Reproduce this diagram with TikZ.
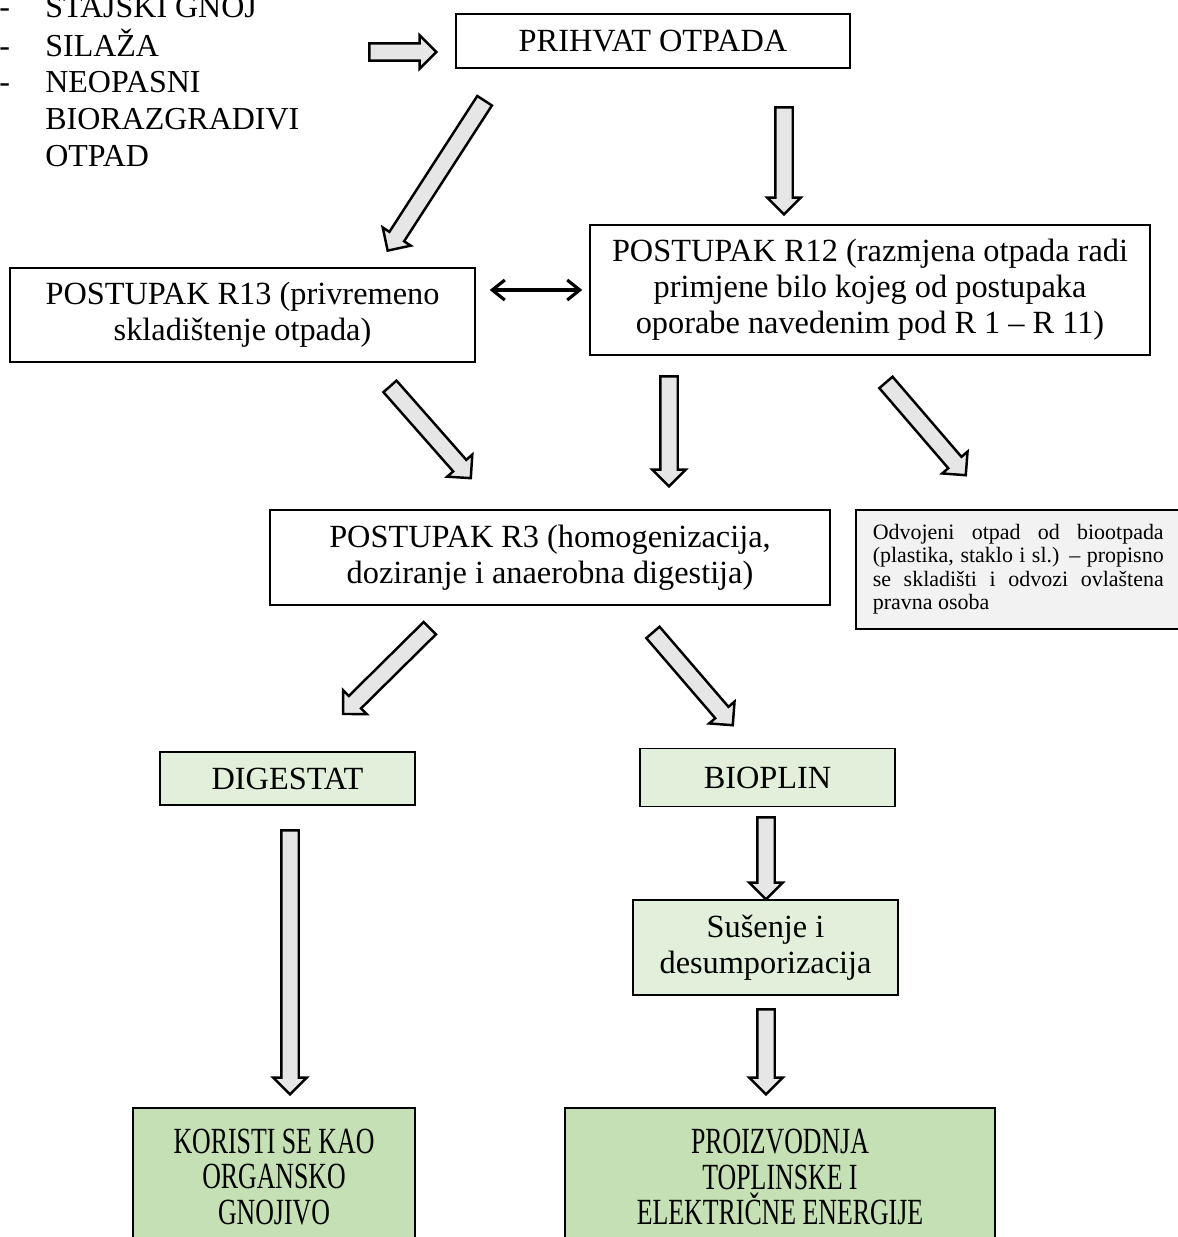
\documentclass[tikz,border=0pt]{standalone}
\usepackage{fontspec}
\setmainfont{Liberation Serif}
\newfontfamily\tallfont[FakeStretch=0.7]{Liberation Serif}
\usetikzlibrary{shapes.arrows,arrows.meta,calc}

\definecolor{g1}{HTML}{E2EFDA}
\definecolor{g2}{HTML}{C5E0B4}
\definecolor{n1}{HTML}{F2F2F2}
\definecolor{a1c}{HTML}{E7E6E6}

\tikzset{
	box/.style = {rectangle, draw, line width=0.9pt, align=center, inner sep=0pt,
		font=\fontsize{18.4}{20.4}\selectfont},
	greenbox/.style = {box, fill=g1},
	resultbox/.style = {box, fill=g2, font=\tallfont\fontsize{21}{20.4}\selectfont},
	notebox/.style = {rectangle, draw, line width=0.9pt, fill=n1, text width=5.82cm,
		align=justify, inner xsep=0.34cm, inner ysep=0pt, font=\fontsize{12.5}{13.2}\selectfont},
	blockarrow/.style = {single arrow, draw, fill=a1c, line width=1.4pt, minimum width=0pt,
		inner xsep=0pt, inner ysep=0.15cm, single arrow head extend=0.16cm, outer sep=0pt},
	line/.style = {draw, line width=1.8pt, <->, >={Straight Barb[length=0.25cm,width=0.4cm]}}
}

% block arrow from tail to tip
\newcommand\barr[2]{%
	\path let \p1 = ($(#2)-(#1)$) in
		node [blockarrow, minimum height={veclen(\x1,\y1)}, rotate={atan2(\y1,\x1)}] at ($(#1)!0.5!(#2)$) {};
}

\begin{document}
\begin{tikzpicture}[x=0.02cm, y=-0.02cm]
		\useasboundingbox (0,0) rectangle (1177,1237);
		
		\node [anchor=base west, inner sep=0pt, font=\fontsize{18.2}{20.8}\selectfont] (inputs) at (-1,18)
			{\begin{tabular}[t]{@{}p{0.92cm}@{}l@{}}
				- & STAJSKI GNOJ\\
				- & SILAŽA\\
				- & NEOPASNI\\
				  & BIORAZGRADIVI\\
				  & OTPAD
			\end{tabular}};
		
		\node [box, minimum width=7.88cm, minimum height=1.08cm] (prihvat) at (653,41) {PRIHVAT OTPADA};
		\node [box, minimum width=9.3cm, minimum height=1.88cm] (r13) at (242.5,315)
			{POSTUPAK R13 (privremeno\\skladištenje otpada)};
		\node [box, minimum width=11.2cm, minimum height=2.6cm] (r12) at (870,290)
			{POSTUPAK R12 (razmjena otpada radi\\primjene bilo kojeg od postupaka\\oporabe navedenim pod R 1 -- R 11)};
		\node [box, minimum width=11.2cm, minimum height=1.9cm] (r3) at (550,557.5)
			{POSTUPAK R3 (homogenizacija,\\doziranje i anaerobna digestija)};
		\node [notebox, anchor=north west, minimum height=2.38cm] (odvojeni) at (855,509)
			{Odvojeni otpad od biootpada (plastika, staklo i sl.) -- propisno se skladišti i odvozi ovlaštena pravna osoba};
		
		%products
		\node [greenbox, minimum width=5.1cm, minimum height=1.06cm] (digestat) at (287.5,778.5) {DIGESTAT};
		\node [greenbox, minimum width=5.1cm, minimum height=1.16cm] (bioplin) at (767.5,777.5) {BIOPLIN};
		\node [greenbox, minimum width=5.3cm, minimum height=1.9cm] (susenje) at (765.5,947.5)
			{Sušenje i\\desumporizacija};
		\node [resultbox, minimum width=5.64cm, minimum height=2.76cm] (gnojivo) at (274,1177)
			{KORISTI SE KAO\\ORGANSKO\\GNOJIVO};
		\node [resultbox, minimum width=8.6cm, minimum height=2.76cm] (energija) at (780,1177)
			{PROIZVODNJA\\TOPLINSKE I\\ELEKTRIČNE ENERGIJE};
		
		%arrow ends
		\coordinate (a1-s) at (365,52);   \coordinate (a1-e) at (432,52);
		\coordinate (a2-s) at (487,97);   \coordinate (a2-e) at (390,247);
		\coordinate (a3-s) at (784,103);  \coordinate (a3-e) at (784,210);
		\coordinate (a5-s) at (387,383);  \coordinate (a5-e) at (468,475);
		\coordinate (a6-s) at (669,372);  \coordinate (a6-e) at (669,482);
		\coordinate (a7-s) at (883,379);  \coordinate (a7-e) at (963,472);
		\coordinate (a8-s) at (433,625);  \coordinate (a8-e) at (346,711);
		\coordinate (a9-s) at (650,629);  \coordinate (a9-e) at (730,722);
		\coordinate (a10-s) at (290,826); \coordinate (a10-e) at (290,1090);
		\coordinate (a11-s) at (766,813); \coordinate (a11-e) at (766,895);
		\coordinate (a12-s) at (766,1005); \coordinate (a12-e) at (766,1090);
		
		\barr{a1-s}{a1-e}
		\barr{a2-s}{a2-e}
		\barr{a3-s}{a3-e}
		\barr{a5-s}{a5-e}
		\barr{a6-s}{a6-e}
		\barr{a7-s}{a7-e}
		\barr{a8-s}{a8-e}
		\barr{a9-s}{a9-e}
		\barr{a10-s}{a10-e}
		\barr{a11-s}{a11-e}
		\barr{a12-s}{a12-e}
		
		\path [line, shorten <=14*0.02cm, shorten >=7*0.02cm] (r13.east |- r12.west) -- (r12.west);
		
	\end{tikzpicture}
\end{document}
